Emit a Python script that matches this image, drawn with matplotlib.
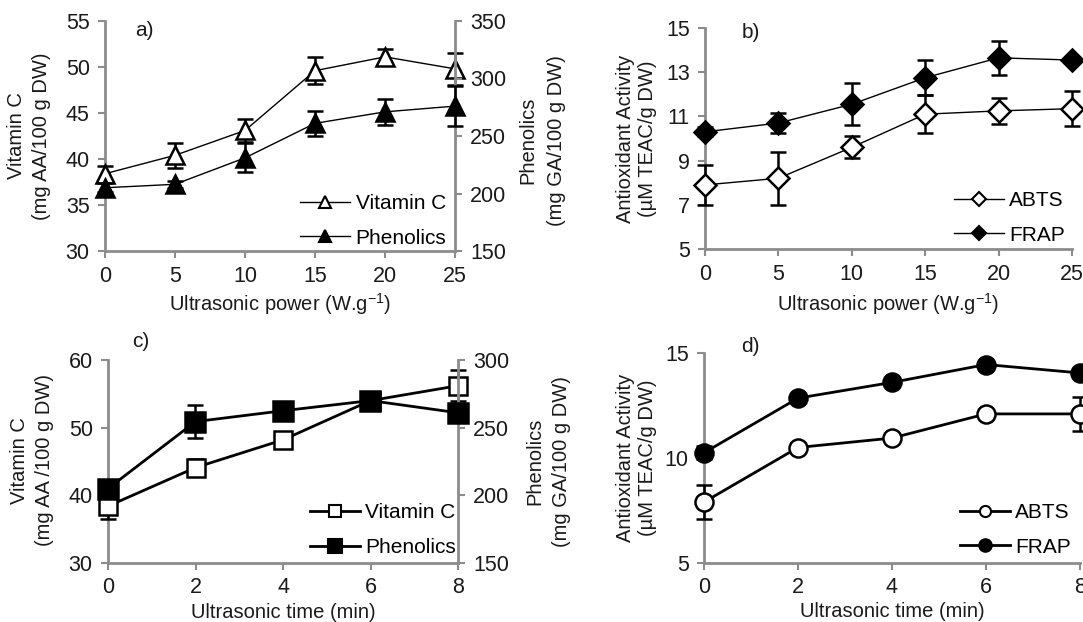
import numpy as np
import matplotlib.pyplot as plt
from matplotlib.lines import Line2D

plt.rcParams['font.family'] = ['Liberation Sans', 'DejaVu Sans']
plt.rcParams['mathtext.fontset'] = 'custom'
plt.rcParams['mathtext.rm'] = 'Liberation Sans'

# ---- data ----
power = [0, 5, 10, 15, 20, 25]
vitc_power = [38.4, 40.4, 43.1, 49.6, 51.1, 49.8]
vitc_power_err = [0.8, 1.35, 1.3, 1.5, 0.9, 1.75]
phen_power = [205, 208, 231, 261, 271, 276]
phen_power_err = [4, 3, 12.5, 11, 11, 17.5]

abts_power = [7.9, 8.2, 9.6, 11.1, 11.25, 11.35]
abts_power_err = [0.9, 1.2, 0.5, 0.85, 0.6, 0.78]
frap_power = [10.3, 10.7, 11.55, 12.75, 13.65, 13.55]
frap_power_err = [0.2, 0.45, 0.95, 0.8, 0.77, 0.12]

time = [0, 2, 4, 6, 8]
vitc_time = [38.4, 44.1, 48.2, 54.0, 56.2]
vitc_time_err = [1.9, 1.3, 0.5, 0.5, 2.3]
phen_time = [205, 254.5, 262.5, 270, 261]
phen_time_err = [3, 12.5, 2, 3, 3]

abts_time = [7.9, 10.5, 10.95, 12.1, 12.1]
abts_time_err = [0.8, 0.2, 0.2, 0.2, 0.8]
frap_time = [10.25, 12.85, 13.6, 14.45, 14.05]
frap_time_err = [0.3, 0, 0, 0, 0]

GRAY = '#8c8c8c'
TXT = '#1a1a1a'
FS_TICK = 15.5
FS_LAB = 14.5
FS_LEG = 15

fig = plt.figure(figsize=(10.83, 6.22), dpi=100)
W, H = 1083, 622


def place(x0, x1, y0, y1):
    # pixel box -> figure axes
    return fig.add_axes([x0 / W, 1 - y1 / H, (x1 - x0) / W, (y1 - y0) / H])


def style(ax, side='left'):
    for s in ['top', 'left', 'right', 'bottom']:
        ax.spines[s].set_visible(False)
    for s in (['left', 'bottom'] if side == 'left' else ['right']):
        ax.spines[s].set_visible(True)
        ax.spines[s].set_color(GRAY)
        ax.spines[s].set_linewidth(2)
    ax.tick_params(which='both', length=5, width=1.5, color=GRAY,
                   labelcolor=TXT, labelsize=FS_TICK, pad=6)
    ax.tick_params(axis='x', pad=6)
    ax.patch.set_alpha(0)


def series(ax, x, y, e, marker, filled, ms, lw):
    ax.errorbar(x, y, yerr=e, fmt='-' + marker, color='black', lw=lw,
                mfc='black' if filled else 'white', mec='black', mew=1.8,
                ms=ms, ecolor='black', elinewidth=1.8, capsize=6, capthick=2,
                clip_on=False, zorder=3)


def handles(entries):
    return [Line2D([], [], color='black', lw=lw, marker=m, ms=s,
                   mfc='black' if f else 'white', mec='black', mew=1.5)
            for m, f, s, lw in entries]


def add_legend(ax, hs, labels, anchor):
    ax.legend(hs, labels, loc='lower right', bbox_to_anchor=anchor,
              frameon=False, fontsize=FS_LEG, handlelength=2.4, handletextpad=0.25,
              labelspacing=0.75, borderpad=0, borderaxespad=0)


def ylab(ax, x, y, text, ls):
    ax.text(x, y, text, transform=ax.transAxes, rotation=90, ha='center',
            va='center', fontsize=FS_LAB, color=TXT, linespacing=ls)


def xlab(ax, text, y):
    ax.set_xlabel(text, fontsize=FS_LAB, color=TXT)
    ax.xaxis.set_label_coords(0.5, y)


def letter(ax, x, y, s):
    ax.text(x, y, s, transform=ax.transAxes, fontsize=15, color=TXT, va='center')


# ---- panel a ----
axa = place(105, 455, 21, 251)
style(axa)
axa.set_xlim(0, 25)
axa.set_ylim(30, 55)
axa.set_xticks(power)
axa.set_yticks([30, 35, 40, 45, 50, 55])
axa2 = axa.twinx()
style(axa2, 'right')
axa2.set_ylim(150, 350)
axa2.set_yticks([150, 200, 250, 300, 350])
series(axa, power, vitc_power, vitc_power_err, '^', False, 13, 1.0)
series(axa2, power, phen_power, phen_power_err, '^', True, 13, 1.0)
xlab(axa, 'Ultrasonic power (W.g$^{-1}$)', -0.175)
ylab(axa, -0.217, 0.5, 'Vitamin C\n(mg AA/100 g DW)', 1.45)
ylab(axa, 1.249, 0.48, 'Phenolics\n(mg GA/100 g DW)', 1.6)
letter(axa, 0.087, 0.96, 'a)')
add_legend(axa2, handles([('^', False, 9, 1.0), ('^', True, 9, 1.0)]),
           ['Vitamin C', 'Phenolics'], (0.975, 0.015))

# ---- panel b ----
axb = place(705, 1072, 28, 249)
style(axb)
axb.set_xlim(0, 25)
axb.set_ylim(5, 15)
axb.set_xticks(power)
axb.set_yticks([5, 7, 9, 11, 13, 15])
series(axb, power, abts_power, abts_power_err, 'D', False, 11, 1.0)
series(axb, power, frap_power, frap_power_err, 'D', True, 11, 1.0)
xlab(axb, 'Ultrasonic power (W.g$^{-1}$)', -0.19)
ylab(axb, -0.188, 0.5, 'Antioxidant Activity\n(\u00b5M TEAC/g DW)', 1.2)
letter(axb, 0.1, 0.98, 'b)')
add_legend(axb, handles([('D', False, 7, 1.0), ('D', True, 7, 1.0)]),
           ['ABTS', 'FRAP'], (0.98, 0.02))

# ---- panel c ----
axc = place(108, 458, 360, 563)
style(axc)
axc.set_xlim(0, 8)
axc.set_ylim(30, 60)
axc.set_xticks(time)
axc.set_yticks([30, 40, 50, 60])
axc2 = axc.twinx()
style(axc2, 'right')
axc2.set_ylim(150, 300)
axc2.set_yticks([150, 200, 250, 300])
series(axc, time, vitc_time, vitc_time_err, 's', False, 13, 2.0)
series(axc2, time, phen_time, phen_time_err, 's', True, 14, 2.0)
axc.tick_params(axis='x', pad=5)
xlab(axc, 'Ultrasonic time (min)', -0.195)
ylab(axc, -0.217, 0.505, 'Vitamin C\n(mg AA /100 g DW)', 1.45)
ylab(axc, 1.257, 0.5, 'Phenolics\n(mg GA/100 g DW)', 1.5)
letter(axc, 0.07, 1.09, 'c)')
add_legend(axc2, handles([('s', False, 9, 2.0), ('s', True, 10, 2.0)]),
           ['Vitamin C', 'Phenolics'], (0.995, 0.03))

# ---- panel d ----
axd = place(704, 1080, 353, 563)
style(axd)
axd.set_xlim(0, 8)
axd.set_ylim(5, 15)
axd.set_xticks(time)
axd.set_yticks([5, 10, 15])
series(axd, time, abts_time, abts_time_err, 'o', False, 13, 2.0)
series(axd, time, frap_time, frap_time_err, 'o', True, 13, 2.0)
axd.tick_params(axis='x', pad=5)
xlab(axd, 'Ultrasonic time (min)', -0.185)
ylab(axd, -0.18, 0.5, 'Antioxidant Activity\n(\u00b5M TEAC/g DW)', 1.2)
letter(axd, 0.1, 1.03, 'd)')
add_legend(axd, handles([('o', False, 8, 2.0), ('o', True, 9, 2.0)]),
           ['ABTS', 'FRAP'], (0.975, 0.03))

fig.savefig('out.png', dpi=100)
